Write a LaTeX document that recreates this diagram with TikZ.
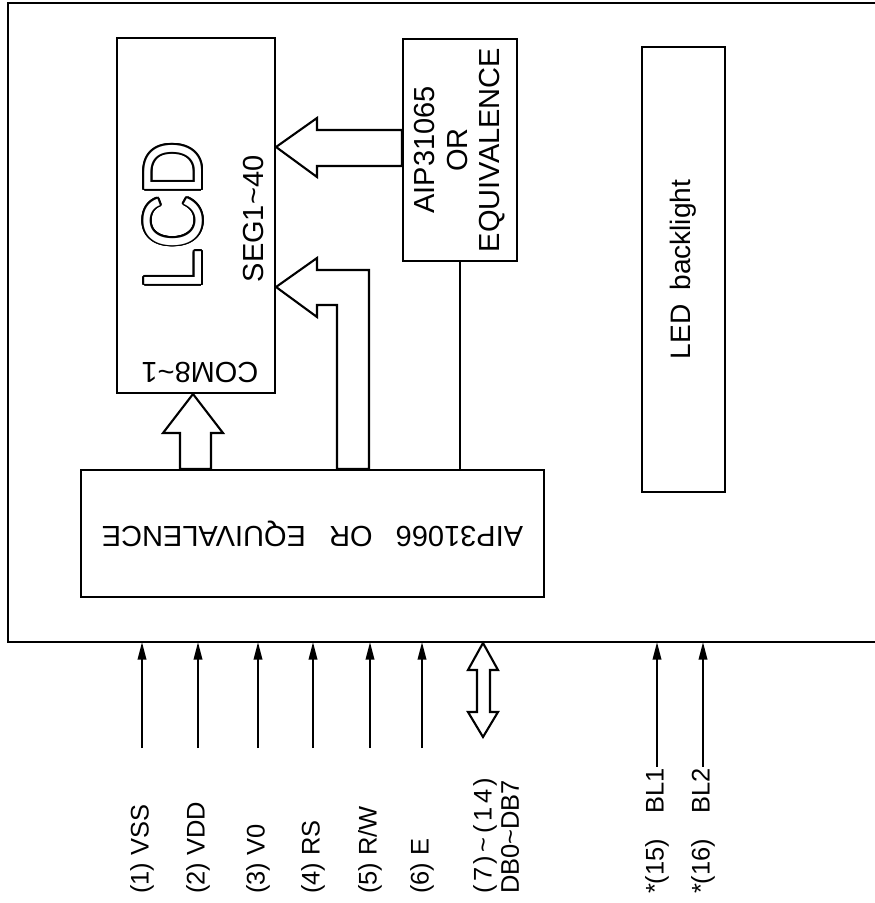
\documentclass[tikz,border=0pt]{standalone}
\usepackage{fontspec}
\setmainfont{Liberation Sans}
\usepackage{contour}
\usetikzlibrary{
  arrows.meta,
  calc
}
\contourlength{1.1pt}
\newcommand{\tld}{\textasciitilde}
\tikzset{
  lcdBox/.style={
    draw,
    line width=1.2pt,
    inner sep=0pt
  },
  lcdText/.style={
    font=\fontsize{16.5}{18}\selectfont,
    inner sep=0pt,
    align=center
  },
  pinText/.style={
    font=\fontsize{14.5}{15.5}\selectfont,
    rotate=90,
    inner sep=0pt
  },
  pinArrow/.style={
    -{Triangle[length=10pt,width=4.8pt]},
    line width=1.2pt
  },
  busArrow/.style={
    draw,
    fill=white,
    line width=1.2pt,
    line join=miter
  }
}

\begin{document}
\begin{tikzpicture}[x=0.02cm, y=-0.02cm, line width=1.2pt]
  \useasboundingbox (0,0) rectangle (875,903);

  % module outline, open to the right
  \draw[line width=1.4pt] (875,3) -| (8,642) -- (875,642);
  \coordinate (base) at (0,642);

  \node[lcdBox, minimum width=3.16cm, minimum height=7.1cm]
    (lcd) at (196,215.5) {};
  \node[lcdBox, minimum width=2.28cm, minimum height=4.44cm]
    (aip65) at (460,150) {};
  \node[lcdBox, minimum width=9.26cm, minimum height=2.54cm]
    (aip66) at (312.5,533.5) {};
  \node[lcdBox, minimum width=1.66cm, minimum height=8.9cm]
    (led) at (683.5,269.5) {};

  \node[rotate=90, inner sep=0pt] (lcdName) at (174,216)
    {\scalebox{0.9}[1]{\fontsize{47}{47}\selectfont\color{white}\contour{black}{LCD}}};
  \node[lcdText, rotate=90] (seg) at (254,219) {SEG1\tld40};
  \node[lcdText, rotate=180] (com) at (200,372) {COM8\tld1};
  \node[lcdText, rotate=90, font=\fontsize{16.5}{18.5}\selectfont]
    (aip65Name) at (aip65) {AIP31065\\OR\\EQUIVALENCE};
  \node[lcdText, rotate=180] (aip66Name) at (aip66)
    {AIP31066\hspace{0.8em}OR\hspace{0.8em}EQUIVALENCE};
  \node[lcdText, rotate=90, font=\fontsize{16}{18}\selectfont]
    (ledName) at (led) {LED\hspace{0.5em}backlight};

  % buses
  \draw[busArrow] (lcd.east |- 0,147) -- (317,118) -- (317,130)
    -- (aip65.west |- 0,130) -- (aip65.west |- 0,166)
    -- (317,166) -- (317,177) -- cycle;
  \draw[busArrow] (lcd.east |- 0,287) -- (317,258) -- (317,270)
    -- (369,270) -- (369,0 |- aip66.north) -- (337,0 |- aip66.north)
    -- (337,305) -- (317,305) -- (317,317) -- cycle;
  \draw[busArrow] (193,0 |- lcd.south) -- (223,433) -- (211,433)
    -- (211,0 |- aip66.north) -- (180,0 |- aip66.north)
    -- (180,433) -- (163,433) -- cycle;
  \draw (aip65.south) -- (aip65.south |- aip66.north);

  % pins
  \node[pinText, anchor=west] (vss) at (142,895) {(1) VSS};
  \node[pinText, anchor=west] (vdd) at (198,895) {(2) VDD};
  \node[pinText, anchor=west] (vo) at (258,895) {(3) V0};
  \node[pinText, anchor=west] (rs) at (313,895) {(4) RS};
  \node[pinText, anchor=west] (rw) at (370,895) {(5) R/W};
  \node[pinText, anchor=west] (en) at (422,895) {(6) E};
  \node[pinText, anchor=north west, align=left] (db) at (472,895)
    {{\addfontfeature{LetterSpace=14}(7)\tld(14)}\\DB0\tld DB7};
  \node[pinText, anchor=west] (bl1) at (657,895) {*(15)\hspace{1em}BL1};
  \node[pinText, anchor=west] (bl2) at (703,895) {*(16)\hspace{1em}BL2};

  \coordinate (vssTail) at (142,748);
  \coordinate (vddTail) at (198,748);
  \coordinate (voTail) at (258,748);
  \coordinate (rsTail) at (313,748);
  \coordinate (rwTail) at (370,748);
  \coordinate (enTail) at (422,748);
  \coordinate (dbIn) at (483,643);
  \coordinate (dbOut) at (483,737);

  \draw[pinArrow] (vssTail) -- (vssTail |- base);
  \draw[pinArrow] (vddTail) -- (vddTail |- base);
  \draw[pinArrow] (voTail) -- (voTail |- base);
  \draw[pinArrow] (rsTail) -- (rsTail |- base);
  \draw[pinArrow] (rwTail) -- (rwTail |- base);
  \draw[pinArrow] (enTail) -- (enTail |- base);
  \draw[pinArrow] (bl1.east) -- (bl1.east |- base);
  \draw[pinArrow] (bl2.east) -- (bl2.east |- base);

  \draw[busArrow] (dbIn) -- ($(dbIn)+(15,27)$) -- ($(dbIn)+(7,27)$)
    -- ($(dbOut)+(7,-25)$) -- ($(dbOut)+(15,-25)$) -- (dbOut)
    -- ($(dbOut)+(-15,-25)$) -- ($(dbOut)+(-6,-25)$)
    -- ($(dbIn)+(-6,27)$) -- ($(dbIn)+(-15,27)$) -- cycle;
\end{tikzpicture}
\end{document}
